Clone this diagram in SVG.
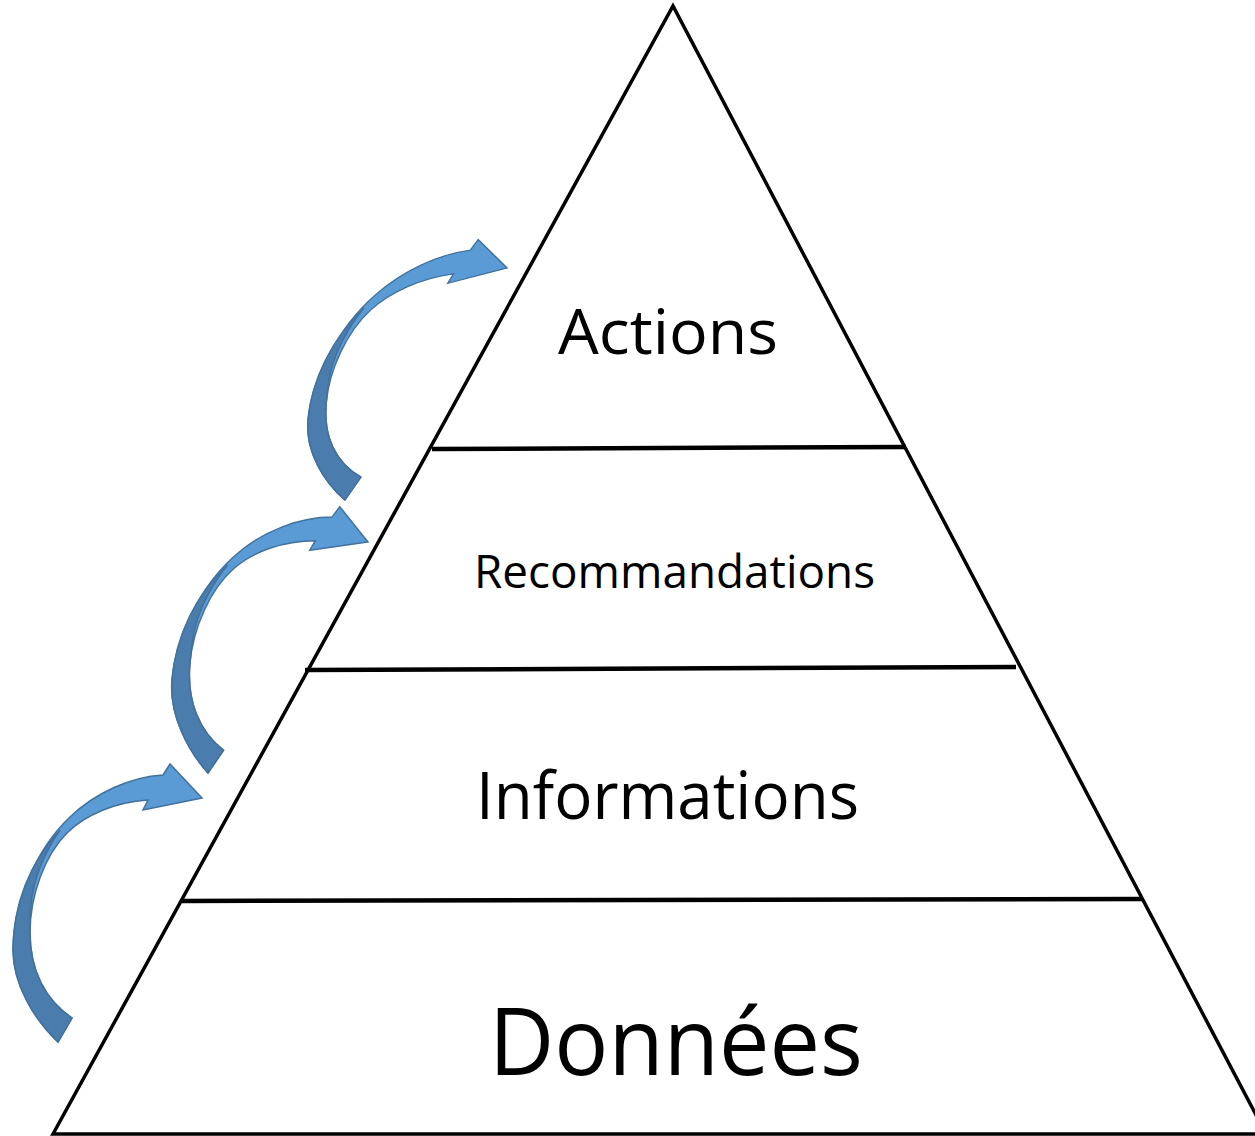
<svg xmlns="http://www.w3.org/2000/svg" xmlns:xlink="http://www.w3.org/1999/xlink" width="1255" height="1136" viewBox="0 0 1255 1136">
<style>
.edge{fill:none;stroke:#000;stroke-width:3.5;stroke-linejoin:miter}
.div{fill:none;stroke:#000;stroke-width:4.5}
.lbl{font-family:"Open Sans","Noto Sans","Liberation Sans",sans-serif;fill:#000;text-anchor:start}
.front{fill:#5B9BD5;stroke:#41719C;stroke-width:1.5;stroke-linejoin:miter}
.back{fill:#4A7DAE;stroke:#41719C;stroke-width:1.5}
</style>
<defs>
<g id="curvedArrow">
<path class="front" d="M58,1042 C35,1020 13,985 13,950 C13,905 35,850 70,817 C95,793 130,777 163,775 L170,764 L202,798 L143,810 L148,800 C115,802 85,815 67,833 C45,855 30,895 30,933 C30,970 45,1000 72,1018 Z"/>
<path class="back" d="M58,1042 C35,1020 13,985 13,950 C13,905 30,862 60,830 C46,850 33,878 31,905 C30,915 30,925 30,933 C30,970 45,1000 72,1018 Z"/>
</g>
</defs>
<g id="pyramid">
<path class="edge" d="M53,1134 L673,6 L1266,1134 Z"/>
</g>
<g id="connectors">
<line class="div" x1="432" y1="449" x2="906" y2="447"/>
<line class="div" x1="305" y1="670" x2="1016" y2="667"/>
<line class="div" x1="182" y1="901" x2="1142" y2="899"/>
</g>
<g id="arrows">
<use xlink:href="#curvedArrow"/>
<use xlink:href="#curvedArrow" transform="matrix(0.970,0.0594,-0.0832,0.9818,238.4,-253.5)"/>
<use xlink:href="#curvedArrow" transform="matrix(0.988,-0.0753,-0.081,0.9064,372.1,-440.1)"/>
</g>
<g id="node-actions"><text class="lbl" x="558" y="354" font-size="63" textLength="220" lengthAdjust="spacingAndGlyphs">Actions</text></g>
<g id="node-recommandations"><text class="lbl" x="474" y="588" font-size="46" textLength="401" lengthAdjust="spacingAndGlyphs">Recommandations</text></g>
<g id="node-informations"><text class="lbl" x="476" y="819" font-size="65" textLength="383" lengthAdjust="spacingAndGlyphs">Informations</text></g>
<g id="node-donnees"><text class="lbl" x="489" y="1075" font-size="93" textLength="374" lengthAdjust="spacingAndGlyphs">Données</text></g>
</svg>
